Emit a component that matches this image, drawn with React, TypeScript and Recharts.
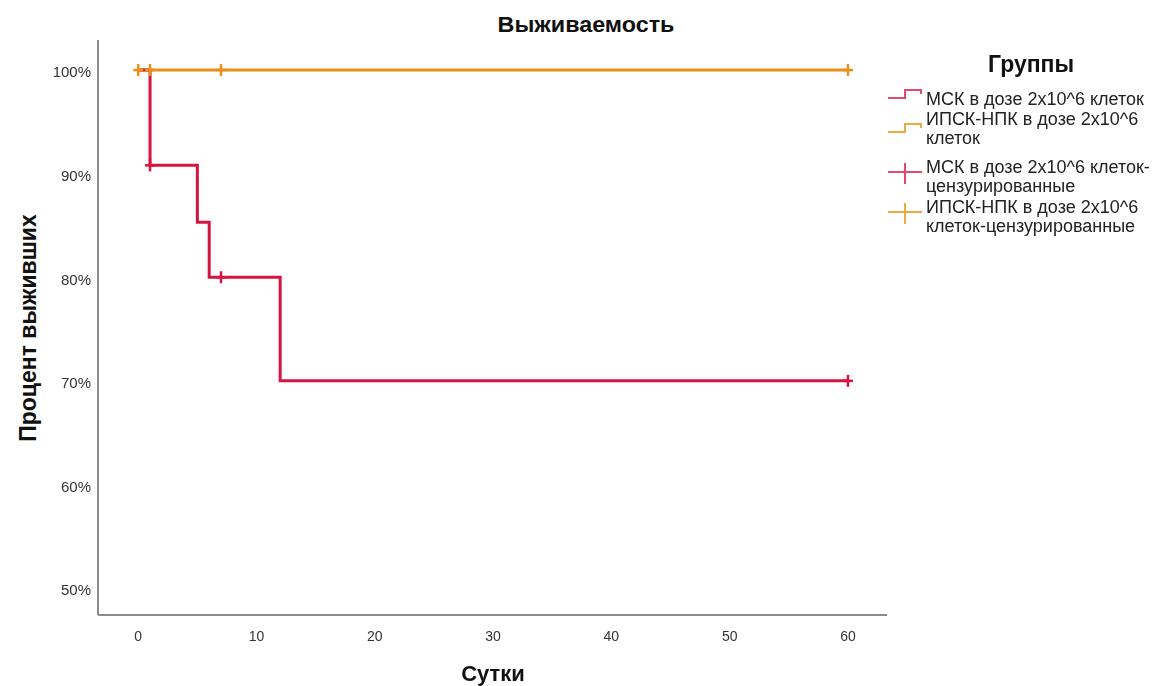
import React from "react";
import {
  ComposedChart,
  Line,
  Scatter,
  XAxis,
  YAxis,
  Legend,
} from "recharts";

// Kaplan-Meier survival, days vs percent surviving
const mskDays = [0, 1, 5, 6, 12, 60];
const mskSurvival = [100, 90.8, 85.3, 80, 70, 70];
const mskCensorDays = [1, 7, 60];
const mskCensorSurvival = [90.8, 80, 70];

const ipskDays = [0, 60];
const ipskSurvival = [100, 100];
const ipskCensorDays = [0, 1, 7, 60];
const ipskCensorSurvival = [100, 100, 100, 100];

const xTicks = [0, 10, 20, 30, 40, 50, 60];
const yTicks = [50, 60, 70, 80, 90, 100];

const legendLabels = [
  ["МСК в дозе 2x10^6 клеток"],
  ["ИПСК-НПК в дозе 2x10^6", "клеток"],
  ["МСК в дозе 2x10^6 клеток-", "цензурированные"],
  ["ИПСК-НПК в дозе 2x10^6", "клеток-цензурированные"],
];

const RED = "#d7143f";
const ORANGE = "#e8901a";
const RED_LIGHT = "#e4496c";
const ORANGE_LIGHT = "#f0a843";
const FONT = "'Liberation Sans', Arial, sans-serif";

const toPoints = (xs: number[], ys: number[]) =>
  xs.map((x, i) => ({ x, y: ys[i] }));

const mskLine = toPoints(mskDays, mskSurvival);
const ipskLine = toPoints(ipskDays, ipskSurvival);
const mskCensored = toPoints(mskCensorDays, mskCensorSurvival);
const ipskCensored = toPoints(ipskCensorDays, ipskCensorSurvival);

function censorShape(color: string) {
  return (props: any) => {
    const { cx, cy } = props;
    return (
      <g>
        <line x1={cx - 5} x2={cx + 5} y1={cy} y2={cy} stroke={color} strokeWidth={2.5} />
        <line x1={cx} x2={cx} y1={cy - 6} y2={cy + 6} stroke={color} strokeWidth={2.5} />
      </g>
    );
  };
}

function StepIcon({ color }: { color: string }) {
  return (
    <svg width={36} height={12} style={{ display: "block" }}>
      <polyline
        points="1,10 18,10 18,2 34,2 34,6"
        fill="none"
        stroke={color}
        strokeWidth={2}
      />
    </svg>
  );
}

function CrossIcon({ color }: { color: string }) {
  return (
    <svg width={36} height={24} style={{ display: "block" }}>
      <line x1={1} x2={35} y1={10} y2={10} stroke={color} strokeWidth={2} />
      <line x1={18} x2={18} y1={1} y2={22} stroke={color} strokeWidth={2} />
    </svg>
  );
}

function GroupsLegend() {
  const textStyle: React.CSSProperties = {
    fontFamily: FONT,
    fontSize: 18,
    lineHeight: "18.5px",
    color: "#222",
  };
  const icons = [
    <StepIcon color={RED_LIGHT} />,
    <StepIcon color={ORANGE_LIGHT} />,
    <CrossIcon color={RED_LIGHT} />,
    <CrossIcon color={ORANGE_LIGHT} />,
  ];
  const rowTops = [50, 70, 118, 158];
  const iconTops = [-2, 12, 4, 4];
  return (
    <div style={{ position: "relative", width: 268, height: 210 }}>
      <div
        style={{
          position: "absolute",
          left: 108,
          top: 11,
          fontFamily: FONT,
          fontWeight: "bold",
          fontSize: 23,
          color: "#111",
        }}
      >
        Группы
      </div>
      {legendLabels.map((lines, i) => (
        <div key={i} style={{ position: "absolute", top: rowTops[i], left: 0, width: 268 }}>
          <div style={{ position: "absolute", left: 7, top: iconTops[i] }}>{icons[i]}</div>
          <div style={{ position: "absolute", left: 46, top: 0, ...textStyle }}>
            {lines.map((l) => (
              <div key={l} style={{ whiteSpace: "nowrap" }}>{l}</div>
            ))}
          </div>
        </div>
      ))}
    </div>
  );
}

export default function App() {
  return (
    <div
      style={{
        position: "fixed",
        left: 0,
        top: 0,
        width: 1155,
        height: 686,
        background: "#fff",
        fontFamily: FONT,
      }}
    >
      <div
        style={{
          position: "absolute",
          left: 436,
          width: 300,
          top: 12,
          textAlign: "center",
          fontWeight: "bold",
          fontSize: 22,
          color: "#111",
          transform: "scaleX(1.06)",
        }}
      >
        Выживаемость
      </div>
      <div
        style={{
          position: "absolute",
          left: 28,
          top: 328,
          transform: "translate(-50%, -50%) rotate(-90deg)",
          whiteSpace: "nowrap",
          fontWeight: "bold",
          fontSize: 23,
          color: "#111",
        }}
      >
        Процент выживших
      </div>
      <div
        style={{
          position: "absolute",
          left: 393,
          width: 200,
          top: 661,
          textAlign: "center",
          fontWeight: "bold",
          fontSize: 22,
          color: "#111",
        }}
      >
        Сутки
      </div>
      <ComposedChart
        width={1155}
        height={686}
        margin={{ top: 40, right: 0, left: 38, bottom: 41 }}
      >
        <XAxis
          type="number"
          dataKey="x"
          domain={[-3.4, 63.3]}
          ticks={xTicks}
          allowDataOverflow
          tickLine={false}
          tickSize={0}
          tickMargin={16}
          height={30}
          stroke="#8c8c8c"
          strokeWidth={2}
          tick={{ fill: "#333", fontSize: 14, fontFamily: FONT }}
        />
        <YAxis
          type="number"
          dataKey="y"
          domain={[47.4, 102.9]}
          ticks={yTicks}
          allowDataOverflow
          tickLine={false}
          tickSize={0}
          tickMargin={7}
          width={60}
          stroke="#8c8c8c"
          strokeWidth={2}
          tickFormatter={(v: number) => `${v}%`}
          tick={{ fill: "#333", fontSize: 15, fontFamily: FONT, dy: 2 }}
        />
        <Legend
          verticalAlign="top"
          align="right"
          layout="vertical"
          width={268}
          wrapperStyle={{ top: 40, left: 880, width: 268 }}
          content={() => <GroupsLegend />}
        />
        <Line
          data={ipskLine}
          dataKey="y"
          type="stepAfter"
          stroke={ORANGE}
          strokeWidth={3}
          dot={false}
          activeDot={false}
          isAnimationActive={false}
        />
        <Line
          data={mskLine}
          dataKey="y"
          type="stepAfter"
          stroke={RED}
          strokeWidth={3}
          dot={false}
          activeDot={false}
          isAnimationActive={false}
        />
        <Scatter
          data={ipskCensored}
          dataKey="y"
          shape={censorShape(ORANGE)}
          isAnimationActive={false}
        />
        <Scatter
          data={mskCensored}
          dataKey="y"
          shape={censorShape(RED)}
          isAnimationActive={false}
        />
      </ComposedChart>
    </div>
  );
}
